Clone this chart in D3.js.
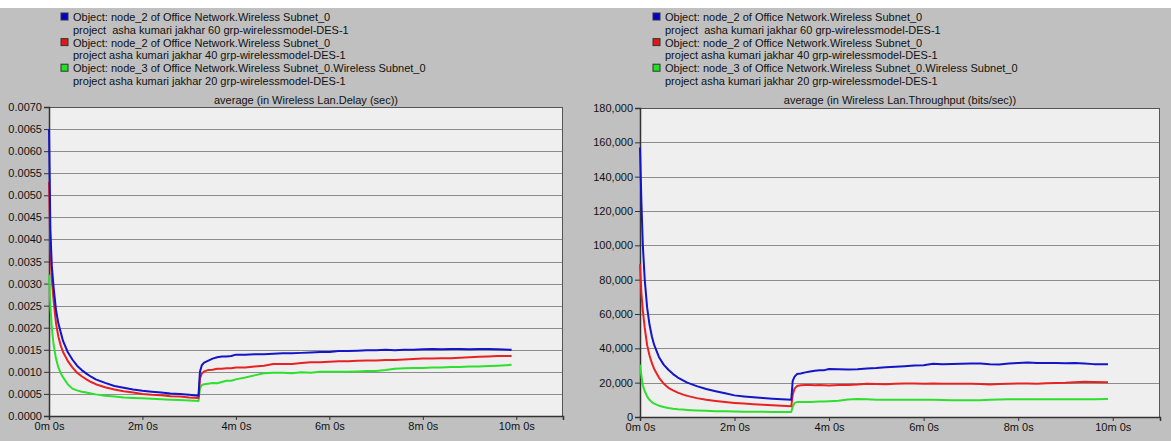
<!DOCTYPE html>
<html>
<head>
<meta charset="utf-8">
<script src="https://cdn.jsdelivr.net/npm/d3@7"></script>
<style>
  body { margin: 0; background: #fff; }
  svg text { font-family: "Liberation Sans", Arial, sans-serif; font-size: 11px; fill: #111; white-space: pre; }
</style>
</head>
<body>
<div id="chart"></div>
<script>
// time in minutes, shared by every series
var times = [0.0, 0.03, 0.06, 0.1, 0.15, 0.2, 0.25, 0.3, 0.4, 0.5, 0.6, 0.7, 0.8, 0.9, 1.0,
  1.2, 1.4, 1.6, 1.8, 2.0, 2.2, 2.4, 2.6, 2.8, 3.0, 3.2, 3.23, 3.27, 3.32, 3.4, 3.5, 3.6, 3.7,
  3.8, 3.9, 4.0, 4.2, 4.4, 4.6, 4.8, 5.0, 5.2, 5.4, 5.6, 5.8, 6.0, 6.2, 6.4, 6.6, 6.8, 7.0,
  7.2, 7.4, 7.6, 7.8, 8.0, 8.2, 8.4, 8.6, 8.8, 9.0, 9.2, 9.4, 9.6, 9.9];

// Wireless LAN delay (sec)
var delay60 = [0.0065, 0.0042, 0.0034, 0.0029, 0.0024, 0.0021, 0.0019, 0.0017, 0.00145, 0.00128,
  0.00114, 0.00104, 0.00096, 0.00089, 0.00083, 0.00075, 0.00068, 0.00064, 0.0006, 0.00057,
  0.00055, 0.00053, 0.00051, 0.0005, 0.00048, 0.00046, 0.001, 0.00115, 0.00121, 0.00125, 0.0013,
  0.00133, 0.00135, 0.00135, 0.00136, 0.00139, 0.00139, 0.0014, 0.0014, 0.00141, 0.00142,
  0.00142, 0.00143, 0.00144, 0.00145, 0.00145, 0.00147, 0.00147, 0.00148, 0.00149, 0.00149,
  0.0015, 0.00149, 0.0015, 0.0015, 0.00151, 0.00152, 0.00151, 0.00152, 0.00152, 0.00151,
  0.00152, 0.00152, 0.00151, 0.0015];
var delay40 = [0.0053, 0.0038, 0.0031, 0.0026, 0.0021, 0.0018, 0.0016, 0.00145, 0.00125, 0.0011,
  0.00098, 0.0009, 0.00083, 0.00077, 0.00072, 0.00065, 0.0006, 0.00056, 0.00053, 0.0005,
  0.00048, 0.00047, 0.00045, 0.00044, 0.00042, 0.00041, 0.00085, 0.00096, 0.00101, 0.00104,
  0.00105, 0.00107, 0.00107, 0.00108, 0.00108, 0.0011, 0.0011, 0.00112, 0.00114, 0.00118,
  0.00118, 0.00118, 0.0012, 0.00122, 0.00122, 0.00123, 0.00124, 0.00124, 0.00125, 0.00126,
  0.00126, 0.00127, 0.00127, 0.00128, 0.00129, 0.0013, 0.0013, 0.00131, 0.00131, 0.00132,
  0.00133, 0.00134, 0.00135, 0.00136, 0.00136];
var delay20 = [0.0032, 0.0025, 0.002, 0.0016, 0.0013, 0.0011, 0.00097, 0.00088, 0.00072, 0.00062,
  0.00058, 0.00055, 0.00053, 0.00051, 0.00049, 0.00046, 0.00044, 0.00042, 0.00041, 0.0004,
  0.00039, 0.00038, 0.00037, 0.00036, 0.00035, 0.00034, 0.00062, 0.0007, 0.00072, 0.00073,
  0.00075, 0.00074, 0.00077, 0.0008, 0.0008, 0.00083, 0.00087, 0.00092, 0.00097, 0.00098,
  0.00098, 0.00097, 0.00099, 0.00098, 0.001, 0.001, 0.001, 0.001, 0.00101, 0.00102, 0.00102,
  0.00104, 0.00107, 0.00108, 0.00109, 0.00109, 0.0011, 0.0011, 0.00111, 0.00111, 0.00112,
  0.00112, 0.00113, 0.00114, 0.00116];

// Wireless LAN throughput (bits/sec)
var thru60 = [157000, 125000, 100000, 80000, 64000, 54000, 47000, 42000, 35000, 30500, 27500,
  25000, 23000, 21500, 20000, 18000, 16300, 15000, 13800, 12600, 12000, 11500, 11100, 10700,
  10300, 10000, 21000, 23500, 25000, 25300, 26000, 26500, 27000, 27200, 27300, 28000, 27800,
  27700, 27800, 28200, 28500, 29000, 29300, 29600, 30000, 30200, 31000, 30800, 30900, 31000,
  31100, 31200, 30700, 30600, 31200, 31500, 31800, 31500, 31400, 31400, 31300, 31400, 31200,
  30800, 30800];
var thru40 = [89000, 72000, 62000, 52000, 42000, 36000, 31500, 28000, 23000, 19500, 17000, 15500,
  14200, 13200, 12300, 11000, 10000, 9300, 8700, 8200, 7800, 7400, 7100, 6800, 6500, 6200,
  13000, 16500, 18000, 18500, 18600, 18600, 18500, 18600, 18500, 18400, 18600, 18700, 18900,
  19300, 19200, 19100, 19300, 19500, 19500, 19400, 19500, 19400, 19300, 19400, 19300, 19200,
  19000, 19200, 19400, 19500, 19500, 19400, 19600, 19800, 19900, 20200, 20500, 20400, 20300];
var thru20 = [30500, 24000, 18500, 15000, 12000, 10000, 8700, 7800, 6600, 5800, 5200, 4800, 4500,
  4300, 4100, 3800, 3600, 3400, 3300, 3200, 3100, 3050, 3000, 2950, 2900, 2850, 6000, 8200,
  8700, 8800, 8700, 8800, 8900, 9000, 9000, 9200, 9500, 10200, 10500, 10400, 10100, 10000,
  10100, 10000, 10000, 10100, 10000, 9900, 9800, 9700, 9700, 9800, 10000, 10200, 10300, 10300,
  10300, 10300, 10300, 10300, 10300, 10300, 10300, 10400, 10500];

var xTicks = [0, 2, 4, 6, 8, 10];
var delayTicks = d3.range(0, 0.00701, 0.0005);
var thruTicks = d3.range(0, 180001, 20000);

var legendLines = [
  "Object: node_2 of Office Network.Wireless Subnet_0",
  "project  asha kumari jakhar 60 grp-wirelessmodel-DES-1",
  "Object: node_2 of Office Network.Wireless Subnet_0",
  "project asha kumari jakhar 40 grp-wirelessmodel-DES-1",
  "Object: node_3 of Office Network.Wireless Subnet_0.Wireless Subnet_0",
  "project asha kumari jakhar 20 grp-wirelessmodel-DES-1"
];
var swatchColors = ["#0000cc", "#e01818", "#22e022"];
var lineColors = ["#1414c8", "#e82222", "#2ee02e"];

var svg = d3.select("#chart").append("svg")
  .attr("width", 1171)
  .attr("height", 441);

svg.append("rect").attr("x", 0).attr("y", 8).attr("width", 1171).attr("height", 433).attr("fill", "#c0c0c0");

function drawPanel(opt) {
  var g = svg.append("g");
  var x = d3.scaleLinear().domain([0, 11]).range([opt.left, opt.right]);
  var y = d3.scaleLinear().domain([0, opt.max]).range([opt.bottom, opt.top]);

  // legend
  legendLines.forEach(function(txt, i) {
    var yy = 21 + i * 12.8;
    if (i % 2 == 0) {
      g.append("rect")
        .attr("x", opt.legendX).attr("y", yy - 8)
        .attr("width", 7).attr("height", 7)
        .attr("fill", swatchColors[i / 2])
        .attr("stroke", "#333").attr("stroke-width", 1);
    }
    g.append("text").attr("x", opt.legendX + 12).attr("y", yy).text(txt);
  });

  g.append("text")
    .attr("x", (opt.left + opt.right) / 2).attr("y", 104)
    .attr("text-anchor", "middle")
    .text(opt.title);

  g.append("rect")
    .attr("x", opt.left).attr("y", opt.top)
    .attr("width", opt.right - opt.left).attr("height", opt.bottom - opt.top)
    .attr("fill", "#efefef");

  // horizontal grid
  g.selectAll(".grid").data(opt.ticks.slice(1, -1)).enter().append("line")
    .attr("x1", opt.left).attr("x2", opt.right)
    .attr("y1", function(d) { return Math.round(y(d)) + 0.5; })
    .attr("y2", function(d) { return Math.round(y(d)) + 0.5; })
    .attr("stroke", "#8c8c8c").attr("stroke-width", 1);

  g.append("rect")
    .attr("x", opt.left + 0.5).attr("y", opt.top + 0.5)
    .attr("width", opt.right - opt.left - 1).attr("height", opt.bottom - opt.top)
    .attr("fill", "none").attr("stroke", "#555").attr("stroke-width", 1);

  var yAxis = g.append("g")
    .attr("transform", "translate(" + opt.left + ",0)")
    .call(d3.axisLeft(y).tickValues(opt.ticks).tickFormat(opt.fmt).tickSize(5).tickPadding(2));
  var xAxis = g.append("g")
    .attr("transform", "translate(0," + opt.bottom + ")")
    .call(d3.axisBottom(x).tickValues(xTicks).tickFormat(function(d) { return d + "m 0s"; }).tickSize(4).tickPadding(2));
  [yAxis, xAxis].forEach(function(a) {
    a.select(".domain").attr("stroke", "#333").attr("stroke-width", 1.5);
    a.selectAll(".tick line").attr("stroke", "#333");
    a.selectAll("text").attr("font-family", null).attr("font-size", null).attr("fill", "#111");
  });

  var line = d3.line()
    .x(function(d, i) { return x(times[i]); })
    .y(function(d) { return y(d); });

  [2, 1, 0].forEach(function(k) {
    g.append("path")
      .datum(opt.series[k])
      .attr("d", line)
      .attr("fill", "none")
      .attr("stroke", lineColors[k])
      .attr("stroke-width", 2)
      .attr("stroke-linejoin", "round");
  });
}

drawPanel({
  left: 49, right: 563, top: 107, bottom: 416,
  max: 0.007, ticks: delayTicks, fmt: d3.format(".4f"),
  legendX: 61,
  title: "average (in Wireless Lan.Delay (sec))",
  series: [delay60, delay40, delay20]
});

drawPanel({
  left: 640, right: 1160, top: 108, bottom: 417,
  max: 180000, ticks: thruTicks, fmt: d3.format(","),
  legendX: 653,
  title: "average (in Wireless Lan.Throughput (bits/sec))",
  series: [thru60, thru40, thru20]
});
</script>
</body>
</html>
